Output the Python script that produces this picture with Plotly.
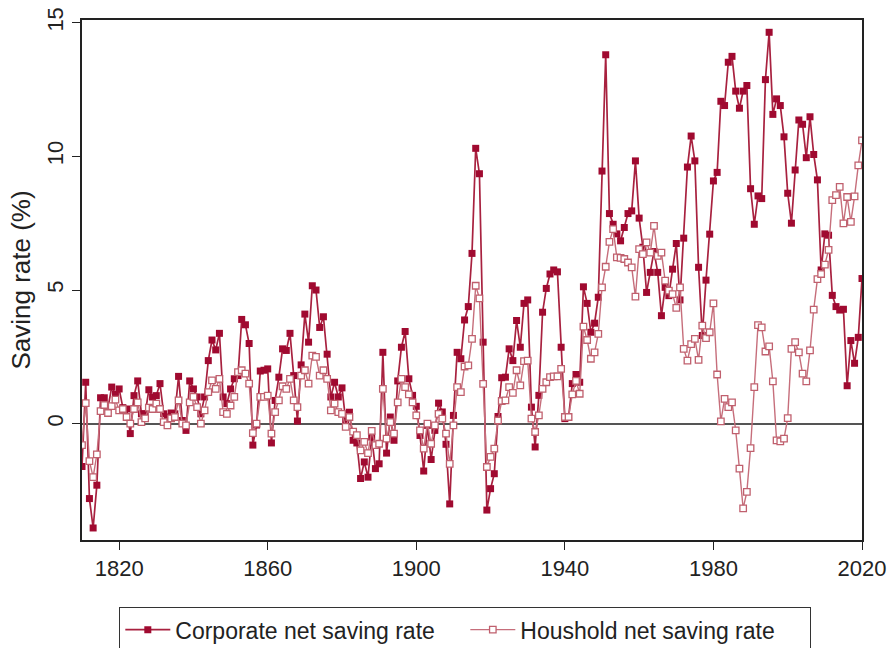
import plotly.graph_objects as go

# years 1810-2020, one point per year
years = list(range(1810, 2021))

# Corporate net saving rate (%)
corporate = [
    -1.6, 1.55, -2.8, -3.9, -2.3, 0.97, 0.97, 0.6, 1.37, 1.1,         # 1810s
    1.3, 0.6, 0.55, -0.37, 1.05, 1.6, 0.37, 0.37, 1.27, 1.0,          # 1820s
    1.05, 1.5, 0.37, 0.25, 0.4, 0.37, 1.77, 0.12, -0.25, 1.6,         # 1830s
    1.3, 1.0, 0.37, 1.0, 2.36, 3.13, 2.76, 3.38, 1.0, 0.75,           # 1840s
    1.3, 1.68, 1.8, 3.9, 3.7, 3.0, -0.8, -0.05, 1.97, 2.0,            # 1850s
    2.05, -0.72, 0.87, 1.74, 2.8, 2.74, 3.38, 1.8, 0.1, 2.2,          # 1860s
    4.1, 3.05, 5.16, 5.0, 3.6, 4.0, 2.6, 1.0, 1.55, 1.0,              # 1870s
    1.34, 0.12, 0.43, -0.62, -0.72, -2.05, -1.43, -2.0, -0.5, -1.68,  # 1880s
    -1.5, 2.67, -1.1, 0.25, -0.62, 1.6, 2.86, 3.45, 1.68, 1.06,       # 1890s
    0.65, -0.44, -1.77, -0.06, -1.34, -0.25, 0.77, 0.44, -0.77, -3.0, # 1900s
    0.31, 2.67, 2.43, 3.88, 4.38, 6.37, 10.3, 9.35, 3.05, -3.23,      # 1910s
    -2.43, -1.87, 0.27, 1.72, 1.74, 2.8, 2.36, 3.86, 2.86, 4.5,       # 1920s
    4.63, 0.62, -0.87, 1.06, 4.17, 5.06, 5.6, 5.75, 5.68, 2.86,       # 1930s
    0.19, 0.25, 1.5, 1.84, 1.55, 5.12, 4.5, 3.42, 3.76, 4.73,         # 1940s
    9.45, 13.8, 7.86, 7.46, 7.1, 6.84, 7.34, 7.86, 7.96, 9.83,        # 1950s
    7.69, 6.6, 4.91, 5.66, 6.44, 5.66, 4.04, 5.1, 4.79, 5.78,         # 1960s
    6.74, 4.63, 6.94, 9.6, 10.76, 9.83, 5.85, 3.3, 5.37, 7.09,        # 1970s
    9.08, 9.4, 12.06, 11.9, 13.52, 13.74, 12.44, 11.8, 12.44, 12.65,  # 1980s
    8.79, 7.46, 8.52, 8.42, 12.87, 14.64, 11.57, 12.15, 11.9, 10.73,  # 1990s
    8.62, 7.5, 9.49, 11.36, 11.2, 9.95, 11.48, 10.07, 9.12, 5.75,     # 2000s
    7.1, 7.05, 4.8, 4.38, 4.25, 4.28, 1.42, 3.11, 2.26, 3.23,         # 2010s
    5.43,                                                             # 2020
]

# Houshold net saving rate (%)
household = [
    -0.8, 0.77, -1.4, -2.0, -1.15, 0.47, 0.7, 0.4, 0.66, 0.9,
    0.5, 0.55, 0.25, 0.0, 0.55, 0.8, 0.06, 0.2, 0.6, 0.55,
    0.75, 0.55, 0.06, -0.06, 0.2, 0.25, 0.87, 0.0, -0.06, 0.8,
    1.0, 0.62, 0.0, 0.5, 1.18, 1.62, 1.3, 1.68, 0.43, 0.37,
    0.68, 1.0, 1.93, 2.0, 1.87, 1.5, -0.35, 0.0, 1.0, 1.0,
    1.05, -0.37, 0.43, 0.87, 1.4, 1.3, 1.68, 0.87, 0.62, 1.8,
    2.0, 1.5, 2.55, 2.5, 1.8, 2.0, 1.68, 0.5, 0.75, 0.43,
    0.37, -0.12, 0.25, -0.3, -0.43, -1.0, -0.68, -1.1, -0.27, -0.8,
    -0.75, 1.3, -0.56, 0.06, -0.37, 0.8, 1.68, 1.37, 1.1, 0.8,
    0.31, -0.25, -0.93, 0.0, -0.75, -0.06, 0.37, 0.19, -0.37, -1.5,
    -0.06, 1.37, 1.18, 2.14, 2.18, 3.17, 5.16, 4.69, 1.49, -1.62,
    -1.24, -0.93, 0.12, 0.85, 0.87, 1.37, 1.15, 2.0, 1.43, 2.34,
    2.36, 0.19, -0.31, 0.31, 1.3, 1.55, 1.74, 1.77, 1.77, 2.05,
    0.25, 0.25, 1.1, 1.6, 1.12, 3.63, 3.13, 2.43, 2.67, 3.36,
    5.1, 5.87, 6.8, 7.28, 6.22, 6.2, 6.16, 6.03, 5.85, 4.75,
    6.53, 6.34, 6.78, 6.4, 7.4, 6.28, 6.4, 5.35, 4.98, 4.85,
    4.33, 5.1, 2.8, 2.36, 2.98, 3.17, 2.39, 3.67, 3.2, 3.42,
    4.5, 1.84, 0.09, 0.93, 0.62, 0.8, -0.25, -1.68, -3.17, -2.55,
    -0.91, 1.37, 3.69, 3.6, 2.7, 2.89, 1.58, -0.62, -0.66, -0.56,
    0.21, 2.8, 3.05, 2.67, 1.87, 1.58, 2.74, 4.27, 5.41, 5.6,
    5.95, 6.5, 8.36, 8.55, 8.86, 7.49, 8.48, 7.55, 8.5, 9.66,
    10.6,
]

x_ticks = [1820, 1860, 1900, 1940, 1980, 2020]
y_ticks = [0, 5, 10, 15]

FONT = "Liberation Sans, Arial, Helvetica, sans-serif"

fig = go.Figure()

fig.add_trace(go.Scatter(
    x=years, y=corporate, mode="lines+markers",
    name="Corporate net saving rate",
    line=dict(color="#a8213f", width=1.7),
    marker=dict(symbol="square", size=7, color="#a00a30", line=dict(width=0)),
))

fig.add_trace(go.Scatter(
    x=years, y=household, mode="lines+markers",
    name="Houshold net saving rate",
    line=dict(color="#c66e7b", width=1.4),
    marker=dict(symbol="square", size=6.5, color="white",
                line=dict(color="#c0606e", width=1.3)),
))

fig.update_layout(
    width=888, height=648,
    margin=dict(l=82, r=26, t=20, b=108),
    paper_bgcolor="white", plot_bgcolor="white",
    font=dict(family=FONT, size=22, color="#222"),
    showlegend=True,
    legend=dict(
        orientation="h", xref="container", yref="container",
        x=0.524, xanchor="center", y=0.063, yanchor="top",
        bordercolor="#333", borderwidth=1, font=dict(size=23),
        itemwidth=45, entrywidth=285,
    ),
)

fig.update_xaxes(
    range=[1810, 2020], tickvals=x_ticks, ticks="outside", ticklen=8,
    tickcolor="#222", showgrid=False, zeroline=False, automargin=False,
    showline=True, linecolor="#222", linewidth=1.5, mirror=True,
)

fig.update_yaxes(
    range=[-4.35, 15.1], tickvals=y_ticks, ticks="outside", ticklen=8,
    tickcolor="#222", tickangle=-90, showgrid=False, automargin=False,
    zeroline=True, zerolinecolor="#555", zerolinewidth=1.5,
    showline=True, linecolor="#222", linewidth=1.5, mirror=True,
    title=dict(text="Saving rate (%)", standoff=5),
)

# drop the default page margin so the figure sits at the window's corner
fig.write_html(
    "out.html",
    config={"displayModeBar": False},
    post_script="document.body.style.margin='0';document.body.style.overflow='hidden';",
)
